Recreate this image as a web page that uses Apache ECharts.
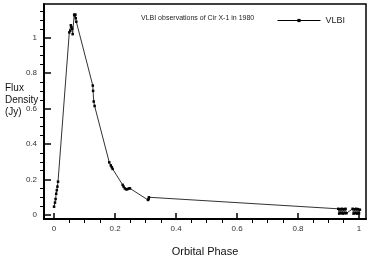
<!DOCTYPE html>
<html>
<head>
<meta charset="utf-8">
<script src="https://cdn.jsdelivr.net/npm/echarts@6/dist/echarts.min.js"></script>
<style>html,body{margin:0;padding:0;background:#fff;}#c{width:374px;height:264px;}</style>
</head>
<body>
<div id="c"></div>
<script>
var phase = [0.000,0.003,0.005,0.007,0.009,0.011,0.013,
  0.050,0.053,0.055,0.057,0.059,0.061,
  0.066,0.068,0.070,0.071,0.073,
  0.127,0.128,0.130,0.133,
  0.181,0.186,0.189,0.192,
  0.225,0.228,0.232,0.236,0.240,0.245,0.249,
  0.308,0.310,0.311,
  0.932,0.935,0.938,0.941,0.944,0.947,0.950,0.953,0.956,0.959,
  0.979,0.982,0.985,0.988,0.991,0.994,0.997,1.000,1.003];
var flux = [0.047,0.07,0.09,0.12,0.14,0.16,0.188,
  1.03,1.04,1.07,1.06,1.05,1.02,
  1.13,1.125,1.13,1.11,1.09,
  0.73,0.70,0.64,0.615,
  0.297,0.28,0.27,0.26,
  0.17,0.16,0.15,0.145,0.145,0.15,0.15,
  0.085,0.09,0.10,
  0.035,0.008,0.033,0.01,0.035,0.008,0.033,0.01,0.035,0.01,
  0.035,0.008,0.033,0.01,0.035,0.008,0.033,0.01,0.03];
var xMajor = [0,0.2,0.4,0.6,0.8,1];
var xMinor = [0.05,0.1,0.15,0.25,0.3,0.35,0.45,0.5,0.55,0.65,0.7,0.75,0.85,0.9,0.95];
var yMajor = [0,0.2,0.4,0.6,0.8,1];
var yMinor = [0.05,0.1,0.15,0.25,0.3,0.35,0.45,0.5,0.55,0.65,0.7,0.75,0.85,0.9,0.95,1.05,1.1,1.15];
var titleText = 'VLBI observations of Cir X-1 in 1980';
var seriesName = 'VLBI';

var XMIN=-0.033, XMAX=1.023, YMIN=-0.0225, YMAX=1.19;
var font = 'Liberation Sans, Arial, sans-serif';
var fmt = function(v){ return String(Math.round(v*10)/10); };
var chart = echarts.init(document.getElementById('c'), null, {renderer:'canvas'});
chart.setOption({
  animation:false,
  backgroundColor:'#fff',
  title:{text:titleText,left:136,top:10,textStyle:{fontSize:7,fontWeight:'normal',color:'#222',fontFamily:font}},
  legend:{data:[seriesName],left:272,top:11,itemWidth:43,itemHeight:4,itemGap:4,
    lineStyle:{width:1,color:'#000'},
    textStyle:{fontSize:9,color:'#222',fontFamily:font}},
  grid:{left:44,right:8,top:4,bottom:45,show:true,borderColor:'#000',borderWidth:1.5,backgroundColor:'transparent'},
  xAxis:[{
    type:'value',min:XMIN,max:XMAX,
    name:'Orbital Phase',nameLocation:'middle',nameGap:27,
    nameTextStyle:{fontSize:11,color:'#111',fontFamily:font},
    axisLine:{show:true,onZero:false,lineStyle:{color:'#000',width:2}},
    axisTick:{show:true,inside:true,length:6,customValues:xMajor,lineStyle:{color:'#000',width:1.5}},
    axisLabel:{show:true,customValues:xMajor,formatter:fmt,fontSize:8,color:'#333',margin:6,fontFamily:font},
    splitLine:{show:false}
  },{
    type:'value',min:XMIN,max:XMAX,position:'bottom',offset:0,
    axisLine:{show:false,onZero:false},
    axisTick:{show:true,inside:false,length:4,customValues:xMinor,lineStyle:{color:'#000',width:1}},
    axisLabel:{show:false},splitLine:{show:false}
  }],
  yAxis:[{
    type:'value',min:YMIN,max:YMAX,
    axisLine:{show:true,onZero:false,lineStyle:{color:'#000',width:2}},
    axisTick:{show:true,inside:true,length:7,customValues:yMajor,lineStyle:{color:'#000',width:1.5}},
    axisLabel:{show:true,customValues:yMajor,formatter:fmt,fontSize:8,color:'#333',margin:7,fontFamily:font},
    splitLine:{show:false}
  },{
    type:'value',min:YMIN,max:YMAX,position:'left',offset:0,
    axisLine:{show:false,onZero:false},
    axisTick:{show:true,inside:false,length:4,customValues:yMinor,lineStyle:{color:'#000',width:1}},
    axisLabel:{show:false},splitLine:{show:false}
  }],
  graphic:[{type:'text',left:5,top:82,style:{text:'Flux\nDensity\n(Jy)',fontSize:10,lineHeight:12,fill:'#111',fontFamily:font}}],
  series:[{
    name:seriesName,type:'line',xAxisIndex:0,yAxisIndex:0,
    data:phase.map(function(p,i){return [p,flux[i]];}),
    symbol:'rect',symbolSize:2.5,showSymbol:true,
    lineStyle:{color:'#333',width:1},
    itemStyle:{color:'#000'}
  }]
});
</script>
</body>
</html>
